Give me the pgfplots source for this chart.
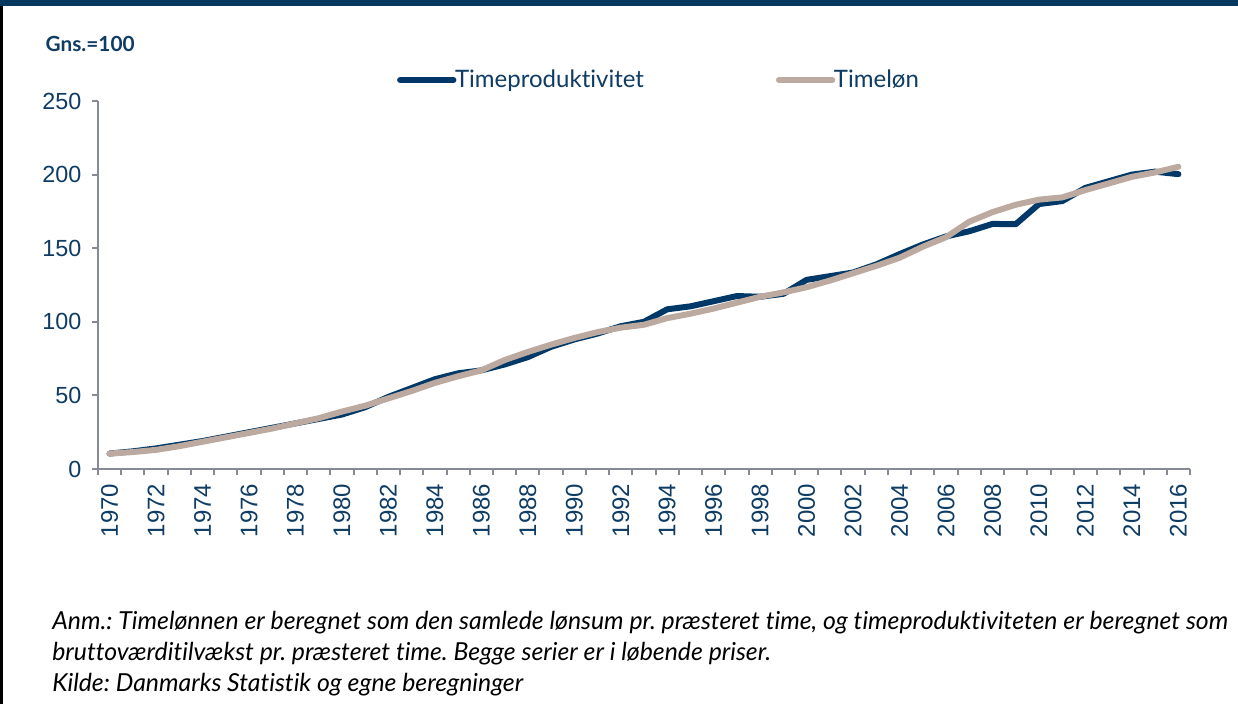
\documentclass[border=0pt]{standalone}
\usepackage{fontspec}
\setmainfont{Lato}[Ligatures={NoCommon}]
\newfontfamily\arialfont{Liberation Sans}
\usepackage{pgfplots}
\pgfplotsset{compat=1.18}
\usepackage{pgfplotstable}
\definecolor{lineblue}{RGB}{0,57,103}
\definecolor{beige}{RGB}{188,170,160}
\definecolor{labelblue}{RGB}{14,60,100}
\definecolor{banner}{RGB}{7,56,95}
\definecolor{axisgrey}{RGB}{134,138,150}

\pgfplotstableread{
year prod lon
1970 10.5 10.5
1971 12 11.5
1972 14 13
1973 16.5 15.5
1974 19 18.5
1975 22 21.5
1976 25 24.5
1977 28 27.5
1978 31 31
1979 34 34.5
1980 37 39
1981 42 43
1982 49 48
1983 55 53
1984 61 58.5
1985 65 63
1986 67 67
1987 71 74
1988 76 79.5
1989 83 84.5
1990 88 89
1991 92 93
1992 97 96
1993 100 98
1994 108.5 102.5
1995 110.5 105.5
1996 114 109
1997 117.5 113
1998 117 117
1999 119 120
2000 128.5 123.5
2001 131 128
2002 133.5 133
2003 139 138
2004 146 143.5
2005 152.5 151
2006 158 157.5
2007 161.5 168
2008 166.5 174.5
2009 166.3 179.5
2010 180 183
2011 182 184.5
2012 191 189.5
2013 195.5 194
2014 200 198.5
2015 202 201.5
2016 200.3 205.3
}\datatable

\begin{document}
\frenchspacing
\begin{tikzpicture}
\path[use as bounding box, fill=white] (0,0) rectangle (928.5pt,528pt);
\fill[banner] (0,523.5pt) rectangle (928.5pt,528pt);
\draw[black, line width=2pt] (1pt,0) -- (1pt,523.5pt);
\node[anchor=base west, inner sep=0pt, text=labelblue, font=\bfseries\fontsize{15.6}{18}\selectfont] at (34pt,489pt) {Gns.=100};

\begin{axis}[
  at={(73.5pt,176.25pt)}, anchor=south west,
  scale only axis, width=819pt, height=276pt,
  xmin=1969.5, xmax=2016.5, ymin=0, ymax=250,
  axis x line*=bottom, axis y line*=left,
  axis line style={-, draw=axisgrey, line width=1.5pt},
  tick align=outside, major tick length=4.5pt,
  tick style={draw=axisgrey, line width=1.5pt},
  ytick={0,50,...,250},
  yticklabel style={font=\arialfont\fontsize{17.5}{20}\selectfont, text=labelblue, xshift=-4.5pt, /pgf/number format/assume math mode=true},
  xtick={1969.5,1970.5,...,2016.5},
  xticklabels={1970,,1972,,1974,,1976,,1978,,1980,,1982,,1984,,1986,,1988,,1990,,1992,,1994,,1996,,1998,,2000,,2002,,2004,,2006,,2008,,2010,,2012,,2014,,2016,},
  xticklabel shift=3pt,
  xticklabel style={xshift=8.7pt, rotate=90, anchor=east, font=\arialfont\fontsize{18}{20}\selectfont, text=labelblue},
  legend columns=2,
  legend style={at={(0.27,1.057)}, anchor=west, draw=none, fill=none,
    font=\fontsize{18}{20}\selectfont, text=labelblue,
    /tikz/every odd column/.append style={column sep=-3pt},
    /tikz/every even column/.append style={column sep=97pt}},
  legend image code/.code={\draw[#1, line width=4.5pt, line cap=round] (0pt,0pt) -- (40pt,0pt);},
  clip=false,
]
\pgfplotsinvokeforeach{1969.5,1970.5,...,2016.5}{
  \draw[axisgrey, line width=1.5pt] (axis cs:#1,0) -- ++(0pt,-4.5pt);
}
\pgfplotsinvokeforeach{0,50,...,250}{
  \draw[axisgrey, line width=1.5pt] (axis cs:1969.5,#1) -- ++(-4.5pt,0pt);
}
\addplot[lineblue, line width=4.5pt, line join=round, line cap=round] table[x=year, y=prod] {\datatable};
\addlegendentry{Timeproduktivitet}
\addplot[beige, line width=4.5pt, line join=round, line cap=round] table[x=year, y=lon] {\datatable};
\addlegendentry{Timeløn}
\end{axis}

\begin{scope}[every node/.style={anchor=base west, inner sep=0pt, font=\itshape\fontsize{18.6}{20}\selectfont}]
\node at (39pt,56.25pt) {Anm.: Timelønnen er beregnet som den samlede lønsum pr. præsteret time, og timeproduktiviteten er beregnet som};
\node at (39pt,33pt) {bruttoværditilvækst pr. præsteret time. Begge serier er i løbende priser.};
\node at (39pt,9.75pt) {Kilde: Danmarks Statistik og egne beregninger};
\end{scope}
\end{tikzpicture}
\end{document}
